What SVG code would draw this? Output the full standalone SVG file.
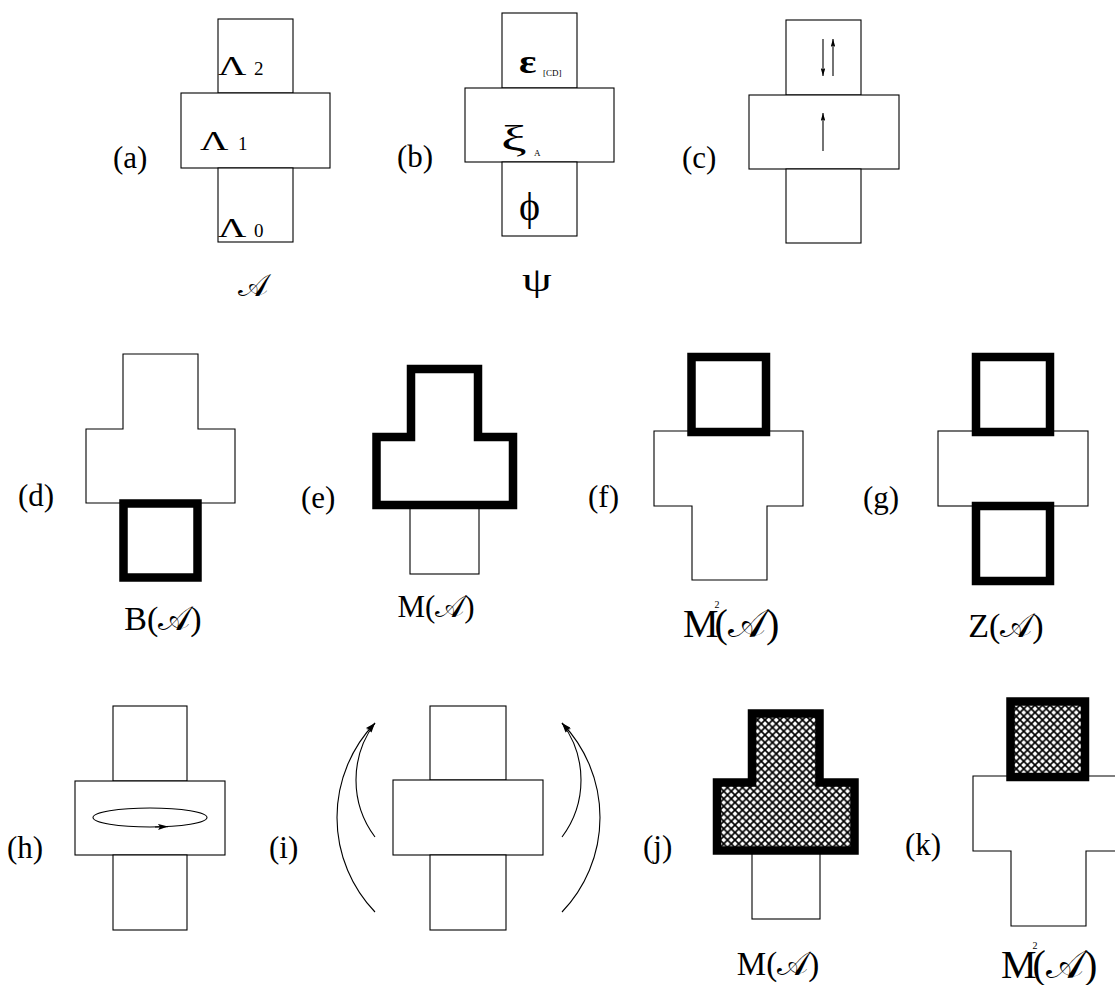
<svg xmlns="http://www.w3.org/2000/svg" width="1115" height="985" viewBox="0 0 1115 985">
<style>
.t{fill:#fff;stroke:#000;stroke-width:1.1}
.k{fill:none;stroke:#000;stroke-width:8.5;stroke-linejoin:miter}
.kh{fill:url(#hatch);stroke:#000;stroke-width:8.5;stroke-linejoin:miter}
.lb{font-family:"Liberation Serif","Times New Roman",serif;font-size:31px;fill:#000}
.nm{font-family:"Liberation Serif","DejaVu Serif","DejaVu Sans",serif;fill:#000}
.ar{fill:none;stroke:#000;stroke-width:1.1}
</style>
<defs>
<pattern id="hatch" patternUnits="userSpaceOnUse" width="7.5" height="7.5">
<rect width="7.5" height="7.5" fill="#fff"/>
<path d="M-1,-1 L8.5,8.5 M8.5,-1 L-1,8.5" stroke="#000" stroke-width="1.7"/>
</pattern>
<marker id="ahs" viewBox="0 0 10 6" refX="10" refY="3" markerWidth="8" markerHeight="4.8" markerUnits="userSpaceOnUse" orient="auto">
<path d="M0,0 L10,3 L0,6 L2,3 z" fill="#000"/>
</marker>
<marker id="ahl" viewBox="0 0 10 6" refX="10" refY="3" markerWidth="11" markerHeight="6" markerUnits="userSpaceOnUse" orient="auto">
<path d="M0,0 L10,3 L0,6 L2,3 z" fill="#000"/>
</marker>
</defs>
<rect width="1115" height="985" fill="#fff"/>

<g id="panel-a">
<rect class="t" x="218" y="19" width="75" height="74"/>
<rect class="t" x="181" y="93" width="149" height="75"/>
<rect class="t" x="218" y="168" width="75" height="74"/>
<text class="lb" x="113" y="168">(a)</text>
<text class="nm" font-size="28" transform="translate(218,75) scale(1.4,1)">Λ</text>
<text class="nm" font-size="19" x="254" y="75">2</text>
<text class="nm" font-size="28" transform="translate(200,150) scale(1.4,1)">Λ</text>
<text class="nm" font-size="19" x="238" y="150">1</text>
<text class="nm" font-size="28" transform="translate(218,237) scale(1.4,1)">Λ</text>
<text class="nm" font-size="19" x="254" y="237">0</text>
<text class="nm" font-size="32" x="253" y="296" text-anchor="middle">𝒜</text>
</g>

<g id="panel-b">
<rect class="t" x="502" y="13" width="75" height="75"/>
<rect class="t" x="465" y="88" width="149" height="74"/>
<rect class="t" x="502" y="162" width="75" height="74"/>
<text class="lb" x="397" y="167">(b)</text>
<text class="nm" font-size="34" font-weight="bold" transform="translate(519,73) scale(1.2,1)">ε</text>
<text class="nm" font-size="9" x="543" y="76">[CD]</text>
<text class="nm" font-size="36" transform="translate(501,150) scale(1.6,1)">ξ</text>
<text class="nm" font-size="9" x="534" y="156">A</text>
<text class="nm" font-size="40" x="519" y="220">ϕ</text>
<text class="nm" font-size="34" transform="translate(522,291) scale(1.4,1)">ψ</text>
</g>

<g id="panel-c">
<rect class="t" x="786" y="20" width="75" height="75"/>
<rect class="t" x="749" y="95" width="150" height="74"/>
<rect class="t" x="786" y="169" width="75" height="74"/>
<text class="lb" x="682" y="168">(c)</text>
</g>

<g id="panel-d">
<polygon class="t" points="123,354 198,354 198,429 235,429 235,503 86,503 86,429 123,429"/>
<rect class="k" x="123.5" y="503.5" width="74" height="74"/>
<text class="lb" x="18" y="506">(d)</text>
<text class="nm" font-size="34" x="163" y="630" text-anchor="middle">B(𝒜)</text>
</g>

<g id="panel-e">
<rect class="t" x="410" y="505" width="69" height="69"/>
<polygon class="k" points="411,369 478,369 478,437 513,437 513,505 376.5,505 376.5,437 411,437"/>
<text class="lb" x="301" y="508">(e)</text>
<text class="nm" font-size="31" x="436" y="617" text-anchor="middle">M(𝒜)</text>
</g>

<g id="panel-f">
<polygon class="t" points="654,431 803,431 803,506 767,506 767,580 692,580 692,506 654,506"/>
<rect class="k" x="691.5" y="357" width="74.5" height="75"/>
<text class="lb" x="588" y="507">(f)</text>
<text class="nm" font-size="40" x="683" y="637">M<tspan font-size="10" dx="-4" dy="-29">2</tspan><tspan dx="-5" dy="29">(𝒜)</tspan></text>
</g>

<g id="panel-g">
<rect class="t" x="938" y="431" width="150" height="75"/>
<rect class="k" x="976" y="357" width="74" height="75"/>
<rect class="k" x="976" y="506" width="74" height="75"/>
<text class="lb" x="863" y="508">(g)</text>
<text class="nm" font-size="34" x="1006" y="637" text-anchor="middle">Z(𝒜)</text>
</g>

<g id="panel-h">
<rect class="t" x="113" y="706" width="74" height="75"/>
<rect class="t" x="75" y="781" width="150" height="74"/>
<rect class="t" x="113" y="855" width="74" height="75"/>
<ellipse class="ar" cx="150" cy="817.5" rx="57" ry="9.5"/>
<text class="lb" x="7" y="858">(h)</text>
</g>

<g id="panel-i">
<rect class="t" x="430" y="706" width="76" height="74"/>
<rect class="t" x="393" y="780" width="150" height="75"/>
<rect class="t" x="430" y="855" width="76" height="75"/>
<text class="lb" x="269" y="858">(i)</text>
</g>

<g id="panel-j">
<rect class="t" x="752" y="850" width="68" height="69"/>
<polygon class="kh" points="752,713.5 819.5,713.5 819.5,782.5 854.5,782.5 854.5,850.5 717,850.5 717,782.5 752,782.5"/>
<text class="lb" x="643" y="857">(j)</text>
<text class="nm" font-size="33" x="778" y="975" text-anchor="middle">M(𝒜)</text>
</g>

<g id="panel-k">
<polygon class="t" points="973,776 1122,776 1122,851 1086,851 1086,926 1011,926 1011,851 973,851"/>
<rect class="kh" x="1010.5" y="701.5" width="74.5" height="75.5"/>
<text class="lb" x="905" y="855">(k)</text>
<text class="nm" font-size="40" x="1001" y="978">M<tspan font-size="10" dx="-4" dy="-29">2</tspan><tspan dx="-5" dy="29">(𝒜)</tspan></text>
</g>

<g id="arrows">
<path class="ar" d="M823,39 L823,76" marker-end="url(#ahs)"/>
<path class="ar" d="M833,76 L833,39" marker-end="url(#ahs)"/>
<path class="ar" d="M823,151 L823,113" marker-end="url(#ahs)"/>
<path class="ar" d="M155,827 L168,826.6" marker-end="url(#ahl)"/>
<path class="ar" d="M375,912 A136.5,136.5 0 0 1 375,723" marker-end="url(#ahl)"/>
<path class="ar" d="M375,837 A95,95 0 0 1 375,723" marker-end="url(#ahl)"/>
<path class="ar" d="M562,912 A136.5,136.5 0 0 0 562,723" marker-end="url(#ahl)"/>
<path class="ar" d="M562,837 A95,95 0 0 0 562,723" marker-end="url(#ahl)"/>
</g>
</svg>
